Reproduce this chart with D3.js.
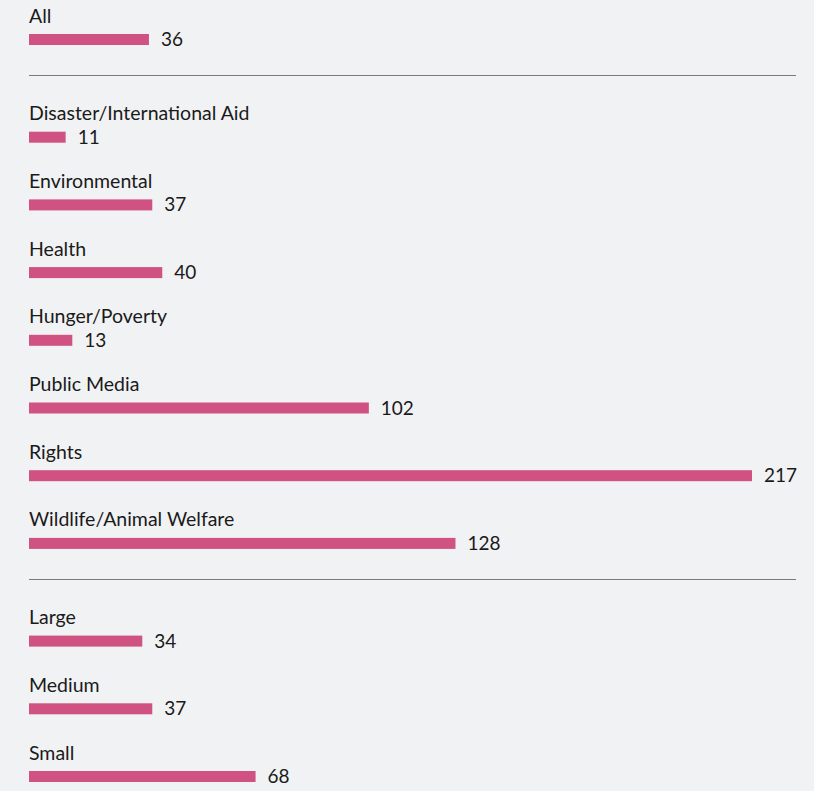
<!DOCTYPE html>
<html>
<head>
<meta charset="utf-8">
<script src="https://cdn.jsdelivr.net/npm/d3@7"></script>
<style>
  html, body { margin: 0; padding: 0; background: #f1f2f4; }
  svg { display: block; }
  text { font-family: "Gill Sans", Lato, "Open Sans", sans-serif; fill: #1a1a1a; }
</style>
</head>
<body>
<script>
const categories = ["All", "Disaster/International Aid", "Environmental", "Health", "Hunger/Poverty", "Public Media", "Rights", "Wildlife/Animal Welfare", "Large", "Medium", "Small"];
const values = [36, 11, 37, 40, 13, 102, 217, 128, 34, 37, 68];
const groups = [0, 1, 1, 1, 1, 1, 1, 1, 2, 2, 2];

const W = 814, H = 791;
const left = 29, rowH = 67.7, groupGap = 30, firstY = 39.5;

const svg = d3.select("body").append("svg").attr("width", W).attr("height", H);

const x = d3.scaleLinear().domain([0, 217]).range([left, 752]);
const yIdx = d3.scaleLinear().domain([0, 1]).range([firstY, firstY + rowH]);
const rows = categories.map((c, i) => ({ c, v: values[i], g: groups[i], y: yIdx(i) + groups[i] * groupGap }));

// dividers after each group except last
const nGroups = d3.max(groups);
for (let g = 0; g < nGroups; g++) {
  const last = rows.filter(r => r.g === g).pop();
  const yy = Math.floor(last.y + 36) + 0.5;
  svg.append("line").attr("x1", left).attr("x2", 796).attr("y1", yy).attr("y2", yy)
    .attr("stroke", "#7a7a7a").attr("stroke-width", 1);
}

const barH = 11;
const row = svg.selectAll("g.row").data(rows).join("g").attr("class", "row");
row.append("rect")
  .attr("x", x(0)).attr("y", d => d.y - barH / 2)
  .attr("width", d => x(d.v) - x(0)).attr("height", barH)
  .attr("fill", "#d05282");
row.append("text")
  .attr("x", left).attr("y", d => d.y - 17)
  .attr("font-size", 19.5)
  .text(d => d.c);
row.append("text")
  .attr("x", d => x(d.v) + 12).attr("y", d => d.y + 6.5)
  .attr("font-size", 19)
  .text(d => d.v);
</script>
</body>
</html>
